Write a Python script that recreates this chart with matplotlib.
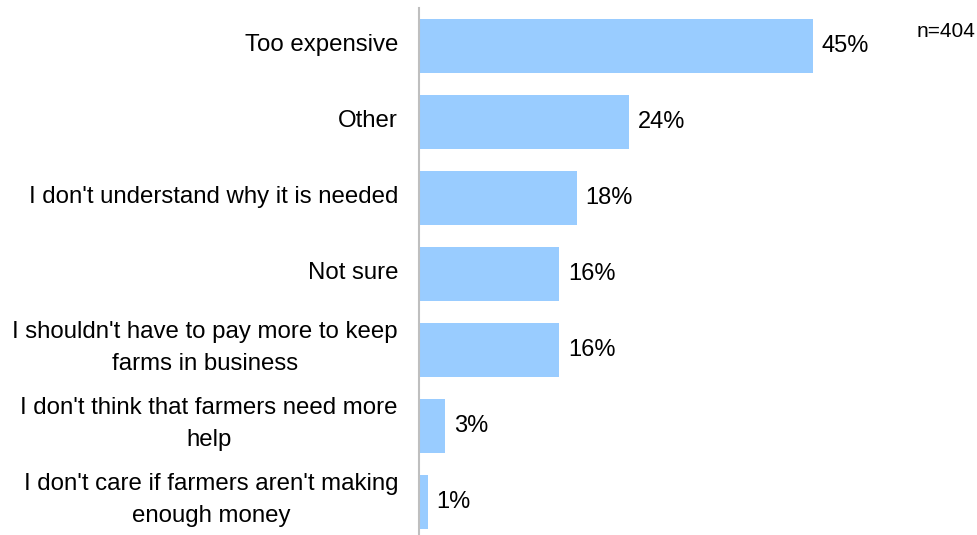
import matplotlib
matplotlib.use('Agg')
import matplotlib.pyplot as plt
from matplotlib.transforms import ScaledTranslation

plt.rcParams['font.family'] = ['Liberation Sans', 'DejaVu Sans']

reasons = [
    'Too expensive',
    'Other',
    "I don't understand why it is needed",
    'Not sure',
    "I shouldn't have to pay more to keep\nfarms in business",
    "I don't think that farmers need more\nhelp",
    "I don't care if farmers aren't making\nenough money",
]
shares = [45, 24, 18, 16, 16, 3, 1]
sample_note = 'n=404'

bar_color = '#99CCFF'
axis_color = '#BFBFBF'
label_size = 17.3
value_size = 17

fig = plt.figure(figsize=(9.77, 5.35), dpi=100)
ax = fig.add_axes([419 / 977, -5 / 535, 60 * 8.76 / 977, 532 / 535])

pos = list(range(len(reasons)))
ax.barh(pos, shares, height=0.7, color=bar_color, zorder=2)

for y, v in zip(pos, shares):
    ax.text(v + 1.0, y, f'{v}%', va='center', ha='left', fontsize=value_size, color='#000000')

# category names drawn as text left of the axis line
for y, name in zip(pos, reasons):
    up = 2 if '\n' in name else 1
    shift = ScaledTranslation(-21 / 100, up / 100, fig.dpi_scale_trans)
    ax.text(0, y, name, transform=ax.get_yaxis_transform() + shift,
            ha='right', va='center', multialignment='center',
            linespacing=1.55, fontsize=label_size, clip_on=False)

ax.set_xlim(0, 60)
ax.set_ylim(len(reasons) - 0.5, -0.5)
ax.set_yticks([])
ax.set_xticks([])

for side in ['top', 'right', 'bottom']:
    ax.spines[side].set_visible(False)
ax.spines['left'].set_color(axis_color)
ax.spines['left'].set_linewidth(1.5)

fig.text(975 / 977, 1 - 37 / 535, sample_note, ha='right', va='baseline', fontsize=15)

fig.savefig('out.png', dpi=100)
